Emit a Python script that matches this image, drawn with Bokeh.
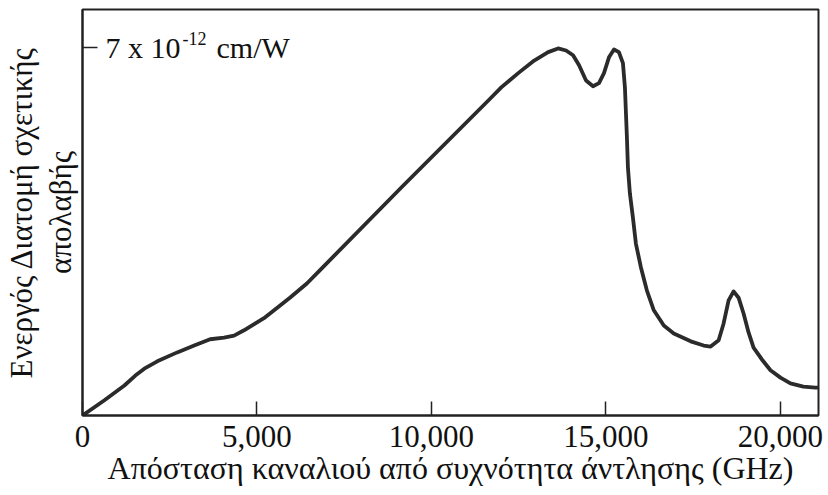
from bokeh.plotting import figure
from bokeh.models import Range1d, FixedTicker, NumeralTickFormatter, Label
from bokeh.embed import file_html
from bokeh.resources import INLINE

# Distance of channel from pump frequency (GHz)
freq_ghz = [0, 629, 1200, 1514, 1771, 2143, 2714, 3200, 3657, 4057, 4343, 4629,
            5200, 5943, 6429, 6800, 9143, 11629, 12000, 12486, 12943, 13343,
            13629, 13857, 14057, 14229, 14429, 14629, 14800, 14943, 15086, 15229,
            15371, 15486, 15543, 15600, 15629, 15686, 15771, 15857, 16000, 16171,
            16371, 16657, 16943, 17429, 17800, 18000, 18229, 18371, 18514, 18657,
            18800, 18943, 19086, 19229, 19486, 19714, 20000, 20286, 20657, 21000,
            21090]
# Effective gain cross-section (units of 1e-12 cm/W)
gain = [0.0, 0.29, 0.57, 0.76, 0.89, 1.03, 1.20, 1.33, 1.45, 1.48, 1.52, 1.62,
        1.85, 2.24, 2.51, 2.76, 4.34, 5.99, 6.24, 6.51, 6.75, 6.91,
        6.98, 6.94, 6.85, 6.66, 6.37, 6.26, 6.32, 6.51, 6.81, 6.96,
        6.91, 6.70, 6.24, 5.29, 4.72, 4.22, 3.77, 3.27, 2.82, 2.38,
        2.00, 1.71, 1.56, 1.41, 1.33, 1.31, 1.43, 1.75, 2.19, 2.36,
        2.24, 1.94, 1.58, 1.29, 1.05, 0.86, 0.72, 0.61, 0.55, 0.53,
        0.53]

x_ticks = [0, 5000, 10000, 15000, 20000]
y_ticks = [7]

FONT = "Liberation Serif"
INK = "#222222"
TXT = "#111111"

p = figure(width=828, height=495, output_backend="svg", toolbar_location=None,
           x_range=Range1d(0, 21090), y_range=Range1d(0, 7.72),
           min_border_left=80, min_border_right=10, min_border_top=9,
           min_border_bottom=80)
p.grid.visible = False
p.background_fill_color = "white"
p.border_fill_color = "white"
p.outline_line_color = INK
p.outline_line_width = 2

p.line(freq_ghz, gain, line_color="#2b2b2b", line_width=3.8, line_join="round")

xa = p.xaxis[0]
xa.ticker = FixedTicker(ticks=x_ticks)
xa.formatter = NumeralTickFormatter(format="0,0")
xa.major_tick_in = 14
xa.major_tick_out = 0
xa.minor_tick_in = 0
xa.minor_tick_out = 0
xa.axis_line_color = INK
xa.axis_line_width = 2
xa.major_tick_line_color = INK
xa.major_tick_line_width = 1.5
xa.major_label_text_font = FONT
xa.major_label_text_font_size = "31px"
xa.major_label_text_color = TXT
xa.major_label_standoff = 10
xa.axis_label = "Απόσταση καναλιού από συχνότητα άντλησης (GHz)"
xa.axis_label_text_font = FONT
xa.axis_label_text_font_size = "32px"
xa.axis_label_text_font_style = "normal"
xa.axis_label_text_color = TXT
xa.axis_label_text_line_height = 1.0
xa.axis_label_standoff = 0

ya = p.yaxis[0]
ya.ticker = FixedTicker(ticks=y_ticks)
ya.major_label_overrides = {7: ""}
ya.major_tick_in = 15
ya.major_tick_out = 0
ya.minor_tick_in = 0
ya.minor_tick_out = 0
ya.axis_line_color = INK
ya.axis_line_width = 2
ya.major_tick_line_color = INK
ya.major_tick_line_width = 1.5
ya.major_label_standoff = 0
ya.axis_label = "Ενεργός Διατομή σχετικής\nαπολαβής"
ya.axis_label_text_font = FONT
ya.axis_label_text_font_size = "31px"
ya.axis_label_text_font_style = "normal"
ya.axis_label_text_color = TXT
ya.axis_label_text_line_height = 1.1
ya.axis_label_standoff = 5

common = dict(x=0, y=7, text_font=FONT, text_color=TXT, text_baseline="middle")
p.add_layout(Label(text="7 x 10", x_offset=23, text_font_size="30px", **common))
p.add_layout(Label(text="-12", x_offset=100, y_offset=9, text_font_size="18px", **common))
p.add_layout(Label(text="cm/W", x_offset=134, text_font_size="30px", **common))

open("out.html", "w").write(file_html(p, INLINE))
